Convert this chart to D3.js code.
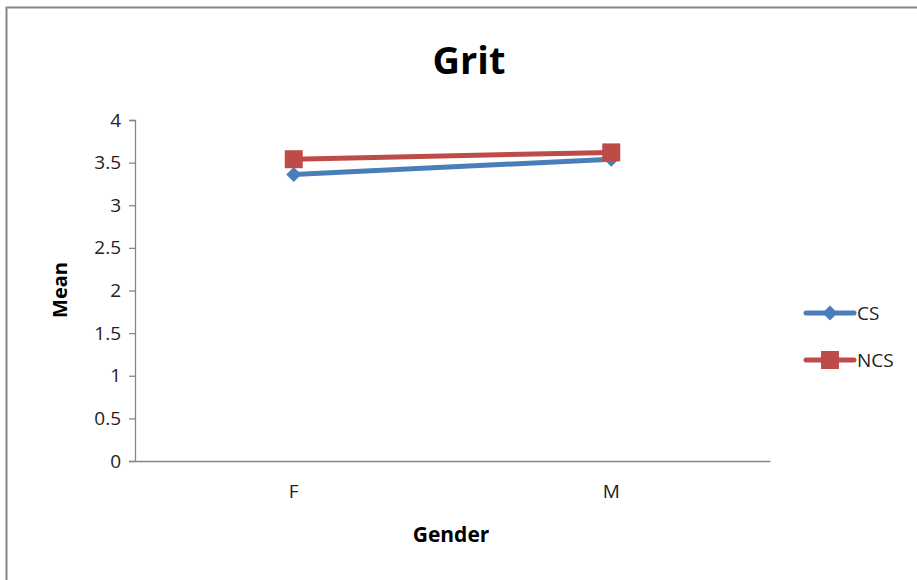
<!DOCTYPE html>
<html>
<head>
<meta charset="utf-8">
<script src="https://cdn.jsdelivr.net/npm/d3@7"></script>
<style>
  html, body { margin: 0; padding: 0; background: #fff; }
  svg { display: block; font-family: "Open Sans", "Liberation Sans", sans-serif; }
</style>
</head>
<body>
<svg id="chart" width="917" height="580"></svg>
<script>
// Categories and series
const categories = ["F", "M"];
const csValues = [3.36, 3.54];
const ncsValues = [3.54, 3.62];
const yTicks = [0, 0.5, 1, 1.5, 2, 2.5, 3, 3.5, 4];
const seriesNames = ["CS", "NCS"];

const series = [
  { name: seriesNames[0], values: csValues, color: "#4a7ebb", marker: "diamond" },
  { name: seriesNames[1], values: ncsValues, color: "#be4b48", marker: "square" }
];

const FONT = "'Open Sans', 'Liberation Sans', sans-serif";
const svg = d3.select("#chart");

// Outer chart frame
svg.append("rect")
  .attr("x", 6.5).attr("y", 7.5)
  .attr("width", 930).attr("height", 600)
  .attr("fill", "none").attr("stroke", "#868686").attr("stroke-width", 2);

const plot = { left: 135, right: 770, top: 120, bottom: 461 };

const x = d3.scaleBand().domain(categories).range([plot.left, plot.right]);
const y = d3.scaleLinear().domain([0, 4]).range([plot.bottom, plot.top]);

// Y axis
const yAxis = svg.append("g")
  .attr("transform", `translate(${plot.left},0)`)
  .call(d3.axisLeft(y).tickValues(yTicks).tickSize(6).tickPadding(8).tickFormat(d3.format("")));
yAxis.attr("font-family", FONT).attr("font-size", 19);
yAxis.select(".domain").attr("stroke", "#868686").attr("stroke-width", 1.3);
yAxis.selectAll(".tick line").attr("stroke", "#868686").attr("stroke-width", 1.3);
yAxis.selectAll(".tick text").attr("fill", "#222");

// X axis
const xAxis = svg.append("g")
  .attr("transform", `translate(0,${plot.bottom})`)
  .call(d3.axisBottom(x).tickSize(0).tickPadding(24));
xAxis.attr("font-family", FONT).attr("font-size", 19);
xAxis.select(".domain").attr("stroke", "#868686").attr("stroke-width", 1.3);
xAxis.selectAll(".tick text").attr("fill", "#222");

// Title and axis titles
svg.append("text")
  .attr("x", 469).attr("y", 74)
  .attr("text-anchor", "middle")
  .attr("font-size", 38).attr("font-weight", "bold").attr("fill", "#000")
  .text("Grit");

svg.append("text")
  .attr("transform", "translate(67,290) rotate(-90)")
  .attr("text-anchor", "middle")
  .attr("font-size", 20).attr("font-weight", "bold").attr("fill", "#000")
  .text("Mean");

svg.append("text")
  .attr("x", 451).attr("y", 542)
  .attr("text-anchor", "middle")
  .attr("font-size", 21).attr("font-weight", "bold").attr("fill", "#000")
  .text("Gender");

function drawMarker(g, type, cx, cy, color) {
  if (type === "square") {
    g.append("rect")
      .attr("x", cx - 9).attr("y", cy - 9)
      .attr("width", 18).attr("height", 18)
      .attr("fill", color);
  } else {
    const s = 7.5;
    g.append("path")
      .attr("d", `M${cx},${cy - s}L${cx + s},${cy}L${cx},${cy + s}L${cx - s},${cy}Z`)
      .attr("fill", color);
  }
}

const line = d3.line()
  .x((d, i) => x(categories[i]) + x.bandwidth() / 2)
  .y(d => y(d));

series.forEach(s => {
  const g = svg.append("g");
  g.append("path")
    .attr("d", line(s.values))
    .attr("fill", "none")
    .attr("stroke", s.color)
    .attr("stroke-width", 5)
    .attr("stroke-linecap", "round");
  s.values.forEach((v, i) => {
    drawMarker(g, s.marker, x(categories[i]) + x.bandwidth() / 2, y(v), s.color);
  });
});

// Legend
const legendY = [313, 360];
series.forEach((s, i) => {
  const g = svg.append("g");
  const ly = legendY[i];
  g.append("line")
    .attr("x1", 806).attr("x2", 854)
    .attr("y1", ly).attr("y2", ly)
    .attr("stroke", s.color).attr("stroke-width", 5)
    .attr("stroke-linecap", "round");
  drawMarker(g, s.marker, 830, ly, s.color);
  g.append("text")
    .attr("x", 857).attr("y", ly + 7)
    .attr("font-size", 19).attr("fill", "#222")
    .text(s.name);
});
</script>
</body>
</html>
